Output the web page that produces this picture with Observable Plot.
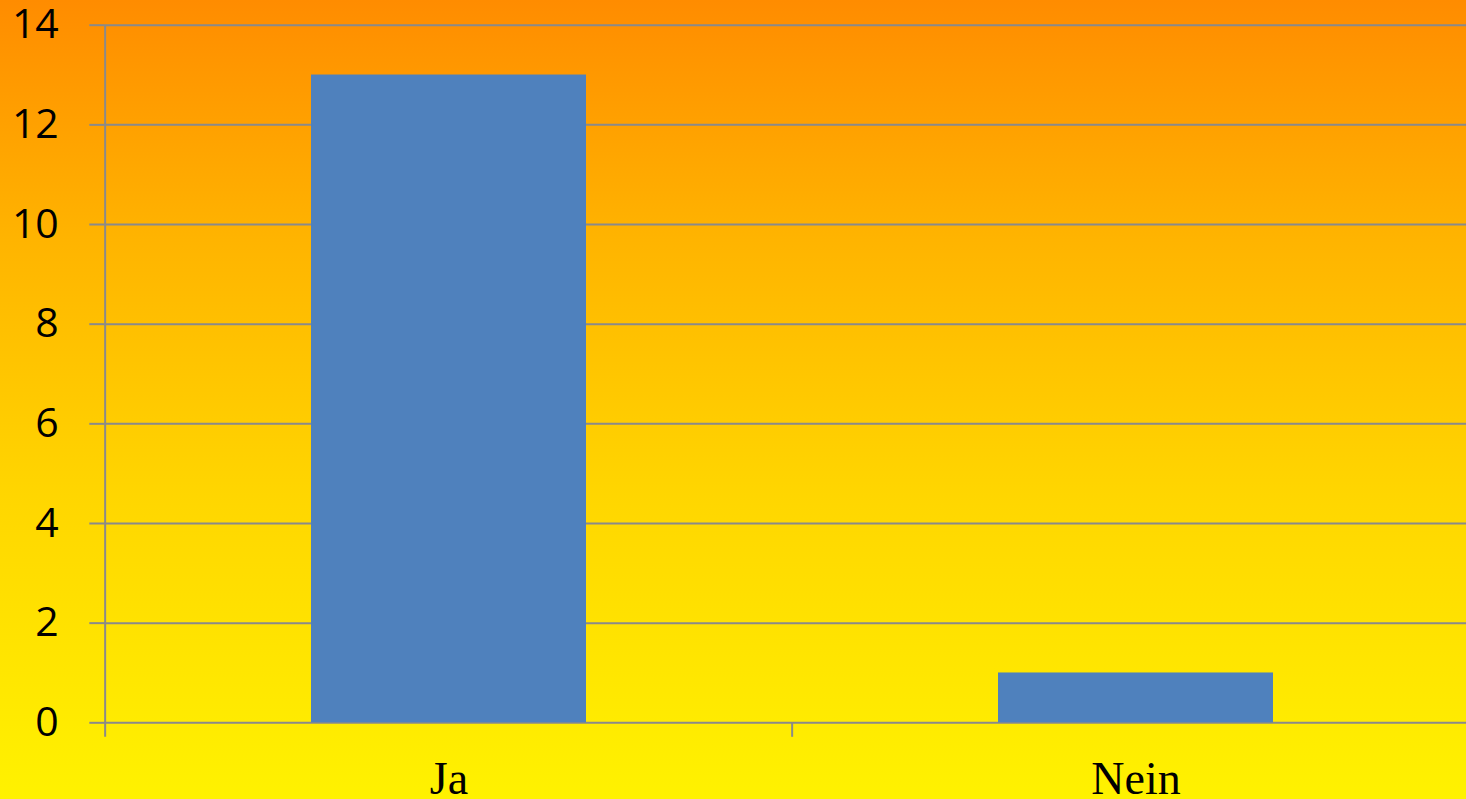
<!DOCTYPE html>
<html>
<head>
<meta charset="utf-8">
<script src="https://cdn.jsdelivr.net/npm/d3@7"></script>
<script src="https://cdn.jsdelivr.net/npm/@observablehq/plot@0.6"></script>
<style>
  html, body { margin: 0; padding: 0; }
  body {
    width: 1466px; height: 799px; overflow: hidden;
    background: linear-gradient(to bottom, #FF8C00 0%, #FFB400 30%, #FFD600 62%, #FFF200 100%);
  }
  svg { max-width: none !important; display: block; }
</style>
</head>
<body>
<div id="chart"></div>
<script>
const categories = ["Ja", "Nein"];
const values = [13, 1];
const yTicks = [0, 2, 4, 6, 8, 10, 12, 14];

(function () {
  const data = categories.map((c, i) => ({category: c, value: values[i]}));

  const W = 1466, H = 799;
  const mLeft = 104.3, mTop = 24.7, mBottom = 76.7;
  const xRange = [104.3, 1479.7];
  const step = (xRange[1] - xRange[0]) / categories.length;
  const gridColor = "#8a8a8a";

  const chart = Plot.plot({
    width: W,
    height: H,
    marginLeft: mLeft,
    marginRight: 0,
    marginTop: mTop,
    marginBottom: mBottom,
    style: {background: "transparent", overflow: "visible"},
    x: {type: "band", domain: categories, range: xRange, paddingInner: 0.6, paddingOuter: 0.3, align: 0.5},
    y: {domain: [0, 14]},
    marks: [
      Plot.gridY(yTicks, {stroke: gridColor, strokeOpacity: 1, strokeWidth: 2}),
      Plot.barY(data, {x: "category", y: "value", fill: "#4F81BD"}),
      Plot.ruleX([categories[0]], {x: d => d, dx: -step / 2, y1: 14, y2: 0, insetBottom: -14.5, stroke: gridColor, strokeWidth: 2}),
      Plot.ruleX(categories.slice(1), {x: d => d, dx: -step / 2, y1: 0, y2: 0, insetBottom: -14.5, stroke: gridColor, strokeWidth: 2}),
      Plot.axisY(yTicks, {
        tickSize: 15, tickPadding: 31, stroke: gridColor, strokeWidth: 2,
        tickFormat: d => String(d),
        fill: "black", fontSize: 41, fontFamily: "Open Sans", label: null
      }),
      Plot.axisX({
        tickSize: 0, tickPadding: 39, fill: "black",
        fontSize: 46, fontFamily: "Liberation Serif", label: null
      })
    ]
  });
  document.getElementById("chart").appendChild(chart);
})();
</script>
</body>
</html>
